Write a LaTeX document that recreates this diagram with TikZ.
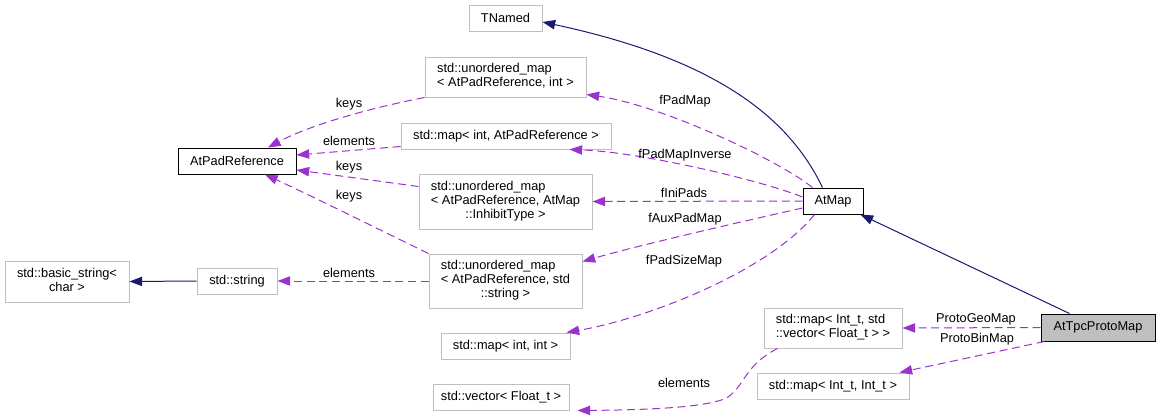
\documentclass[tikz,border=0pt]{standalone}
\usepackage{fontspec}
\setmainfont{Liberation Sans}
\usetikzlibrary{arrows.meta,calc}
\definecolor{navy}{HTML}{191970}
\definecolor{orchid}{HTML}{9A32CD}
\definecolor{gbox}{HTML}{BFBFBF}
\newcommand\mlines[1]{\begin{tabular}{@{}l@{}}#1\end{tabular}}
\newcommand\cln[1]{\multicolumn{1}{@{}c@{}}{#1}}
\tikzset{
  base/.style={font=\fontsize{9.6}{10.5}\selectfont},
  cls/.style={base, draw=gbox, line width=0.75pt, inner sep=0pt, align=center},
  doc/.style={cls, draw=black},
  sz/.style 2 args={minimum width=#1*0.75pt, minimum height=#2*0.75pt},
  lbl/.style={base, inner sep=0pt},
  inh/.style={draw=navy, line width=0.75pt, -{Triangle[length=9.5pt,width=7pt]}},
  use/.style={draw=orchid, line width=0.75pt, dash pattern=on 6pt off 3.5pt,
              -{Triangle[length=9.5pt,width=7pt]}},
}
\begin{document}
\begin{tikzpicture}[x=0.75pt,y=-0.75pt]
\useasboundingbox (0,0) rectangle (1160,418);

% class nodes
\node[cls, sz={73}{26}] (tnamed) at (505.5,18) {TNamed};
\node[cls, sz={161}{40}] (um1) at (505.5,77) {\mlines{std::unordered\_map\\< AtPadReference, int >}};
\node[cls, sz={210}{26}] (mapinv) at (506,136) {std::map< int, AtPadReference >};
\node[cls, sz={173}{55}] (uminh) at (505.5,201.5) {\mlines{std::unordered\_map\\< AtPadReference, AtMap\\\cln{::InhibitType >}}};
\node[cls, sz={153}{54}] (umstr) at (505.5,281) {\mlines{std::unordered\_map\\< AtPadReference, std\\\cln{::string >}}};
\node[cls, sz={129}{26}] (mapii) at (505.5,346) {std::map< int, int >};
\node[cls, sz={136}{26}] (vecf) at (501,397) {std::vector< Float\_t >};
\node[doc, sz={118}{26}] (padref) at (237,161) {AtPadReference};
\node[cls, sz={124}{41}] (bstr) at (67,281.5) {\mlines{std::basic\_string<\\\cln{char >}}};
\node[cls, sz={80}{26}] (str) at (237,281) {std::string};
\node[doc, sz={60}{26}] (atmap) at (833,201) {AtMap};
\node[cls, sz={138}{40}] (mapiv) at (833,328) {\mlines{std::map< Int\_t, std\\::vector< Float\_t > >}};
\node[cls, sz={152}{26}] (mapint) at (833,386) {std::map< Int\_t, Int\_t >};
\node[doc, fill=gbox, sz={114}{27}] (proto) at (1098,327.5) {AtTpcProtoMap};

% inheritance
\draw[inh] (str.west) -- (bstr.east);
\draw[inh] ($(proto.north west)+(29,0)$) -- ($(atmap.south east)+(-3,0)$);
\draw[inh] ($(atmap.north west)+(20,0)$) .. controls (790,120) and (720,60) .. ($(tnamed.east)+(0,4)$);

% usage
\draw[use] (um1.south west) .. controls (370,108) and (310,125) .. ($(padref.north)+(31,0)$);
\draw[use] ($(mapinv.south west)+(0,-3)$) -- ($(padref.east)+(0,-6)$);
\draw[use] ($(uminh.west)+(0,-15)$) -- ($(padref.east)+(0,9)$);
\draw[use] (umstr.north west) .. controls (380,230) and (320,200) .. ($(padref.south)+(28,0)$);
\draw[use] (umstr.west) -- (str.east);

\draw[use] ($(atmap.north west)+(10,0)$) .. controls (775,158) and (660,105) .. ($(um1.south east)+(0,-3)$);
\draw[use] ($(atmap.west)+(0,-4)$) .. controls (760,180) and (640,152) .. ($(mapinv.south east)+(-42,0)$);
\draw[use] (atmap.west) -- (uminh.east);
\draw[use] ($(atmap.west)+(0,7)$) .. controls (740,222) and (640,245) .. ($(umstr.north east)+(0,8)$);
\draw[use] ($(atmap.south west)+(12,0)$) .. controls (770,270) and (650,318) .. ($(mapii.north east)+(-4,0)$);

\draw[use] (proto.west) -- (mapiv.east);
\draw[use] ($(proto.south west)+(4,0)$) -- ($(mapint.north east)+(-10,0)$);
\draw[use] ($(mapiv.south west)+(14,0)$) .. controls (745,365) and (745,385) .. (728,397)
   .. controls (710,408) and (640,410) .. ($(vecf.south east)+(8,0)$);

% labels
\node[lbl] (l1) at (349,104) {keys};
\node[lbl] (l2) at (349,141) {elements};
\node[lbl] (l3) at (349,167) {keys};
\node[lbl] (l4) at (349,196) {keys};
\node[lbl] (l5) at (349,273) {elements};
\node[lbl] (l6) at (685,101) {fPadMap};
\node[lbl] (l7) at (685,155) {fPadMapInverse};
\node[lbl] (l8) at (684,193) {fIniPads};
\node[lbl] (l9) at (685,219) {fAuxPadMap};
\node[lbl] (l10) at (684,261) {fPadSizeMap};
\node[lbl] (l11) at (976,319) {ProtoGeoMap};
\node[lbl] (l12) at (977,339) {ProtoBinMap};
\node[lbl] (l13) at (684,383) {elements};
\end{tikzpicture}
\end{document}
